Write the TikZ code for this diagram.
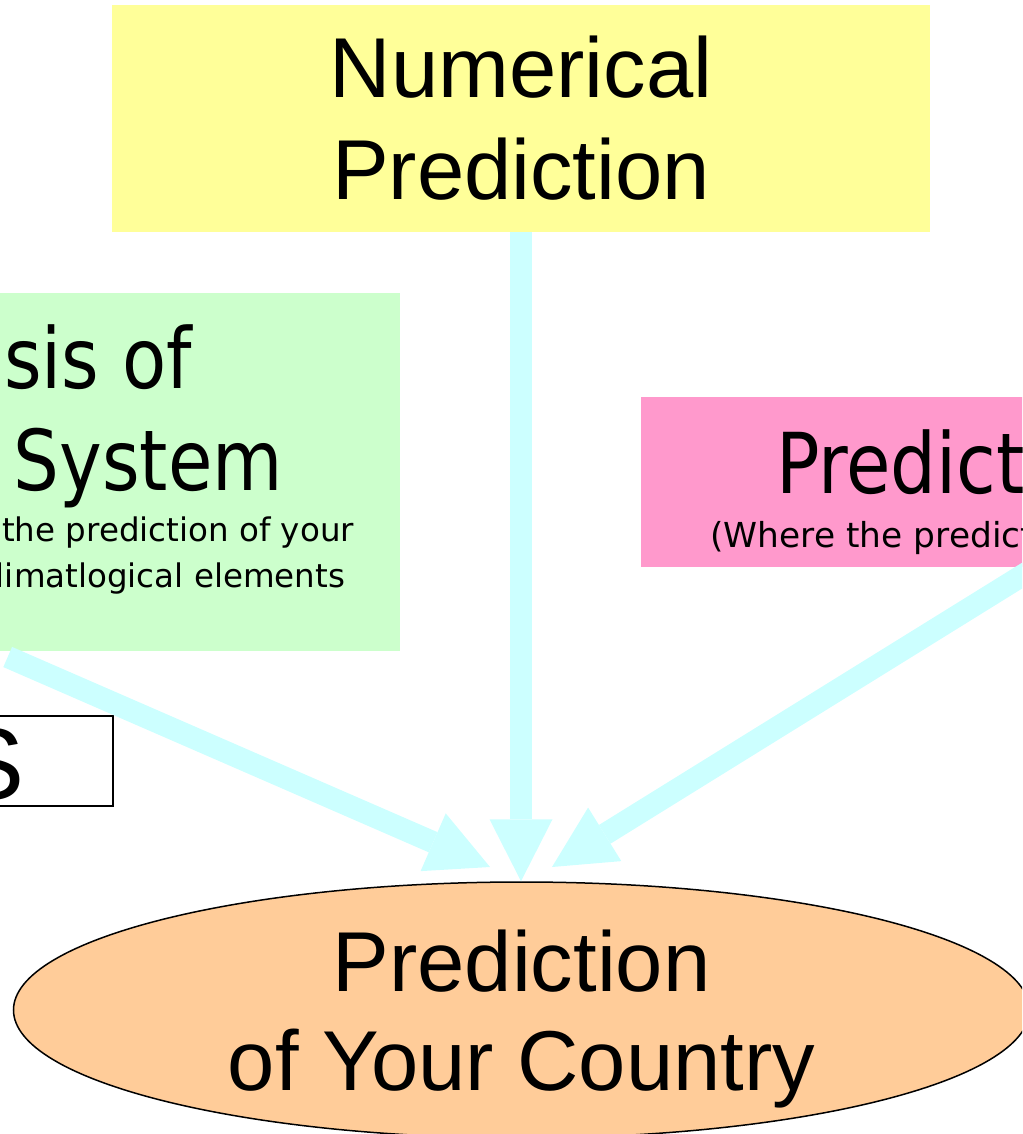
\documentclass[tikz,border=0pt]{standalone}
\usepackage{fontspec}
\setmainfont{Liberation Sans}
\newfontfamily\tahoma{DejaVu Sans}
\newfontfamily\tahomabig[FakeStretch=0.86]{DejaVu Sans}
\usetikzlibrary{arrows.meta,shapes.geometric}
\definecolor{yellowbg}{HTML}{FFFF99}
\definecolor{greenbg}{HTML}{CCFFCC}
\definecolor{pinkbg}{HTML}{FF99CC}
\definecolor{orangebg}{HTML}{FFCC99}
\definecolor{feedcyan}{HTML}{CCFFFF}
\begin{document}
\begin{tikzpicture}[x=1pt,y=-1pt,
  box/.style={inner sep=0pt,outer sep=0pt},
  frag/.style={inner sep=0pt,outer sep=0pt},
  bigtext/.style={font=\fontsize{84}{100}\tahomabig},
  smalltext/.style={font=\fontsize{#1}{#1}\tahoma},
  feed/.style={draw=feedcyan,line width=22pt,-{Triangle[length=62pt,width=63pt,line width=0pt]}}]
\useasboundingbox (0,0) rectangle (1022,1134);
\clip (0,0) rectangle (1022,1134);
% boxes
\node[box,fill=yellowbg,minimum width=818pt,minimum height=227pt,align=center,
  font=\fontsize{85}{102}\selectfont] (numerical) at (521,118.5) {Numerical\\Prediction};
\node[box,fill=greenbg,minimum width=800pt,minimum height=358pt] (analysis) at (0,472) {};
\node[frag,bigtext,anchor=base east] (analysisa) at (192,388) {sis of};
\node[frag,bigtext,anchor=base east] (analysisb) at (283,490) {System};
\node[frag,smalltext=32.5,anchor=base east] (analysisc) at (354,541) {the prediction of your};
\node[frag,smalltext=32.5,anchor=base east] (analysisd) at (345,587) {limatlogical elements};
\node[box,fill=pinkbg,minimum width=759pt,minimum height=170pt] (predict) at (1020.5,482) {};
\node[frag,bigtext,anchor=base west] (predicta) at (776,493) {Predict};
\node[frag,smalltext=34.4,anchor=base west] (predictb) at (710.5,547) {(Where the predict};
\node[box,draw=black,line width=1.5pt,fill=white,minimum width=313pt,minimum height=90pt] (sbox) at (-43.5,761) {};
\node[frag,anchor=base east,font=\fontsize{102}{110}\selectfont] (sboxa) at (25,799) {S};
\node[ellipse,draw=black,line width=1.5pt,fill=orangebg,inner sep=0pt,
  minimum width=1016pt,minimum height=256pt,align=center,text depth=0pt,
  font=\fontsize{85}{99}\selectfont] (country) at (521.5,1010) {Prediction\\of Your Country};
% arrows
\coordinate (analysisout) at (7.7,657);
\coordinate (analysisin) at (490,867);
\coordinate (predictout) at (1036,567);
\coordinate (predictin) at (552,867);
\draw[feed] (numerical.south) -- (numerical.south |- country.north);
\draw[feed] (analysisout) -- (analysisin);
\draw[feed] (predictout) -- (predictin);
\end{tikzpicture}
\end{document}
